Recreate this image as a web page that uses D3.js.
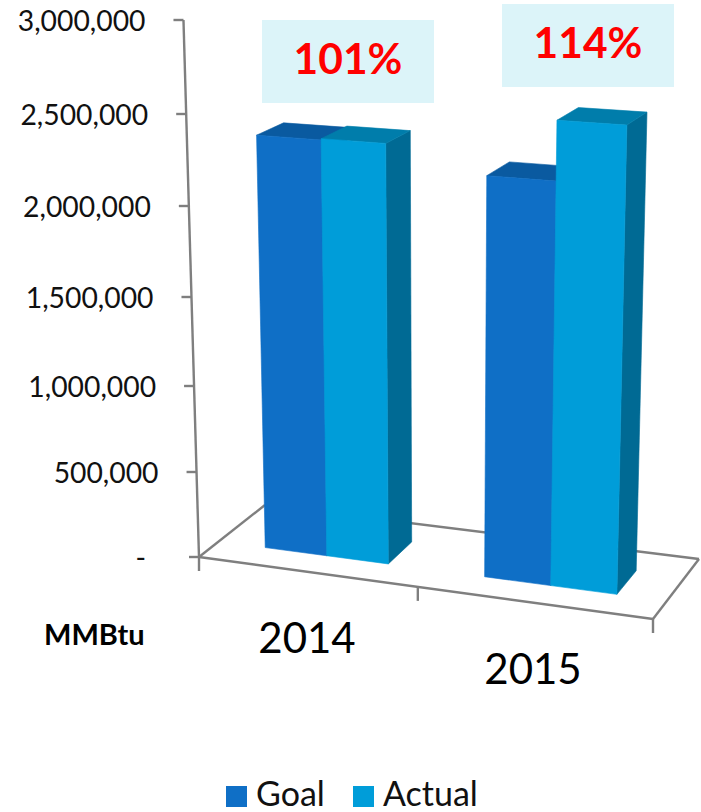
<!DOCTYPE html>
<html>
<head>
<meta charset="utf-8">
<script src="https://cdn.jsdelivr.net/npm/d3@7"></script>
<style>
  body { margin: 0; background: #fff; }
  text { font-family: Lato, "Open Sans", sans-serif; }
</style>
</head>
<body>
<div id="chart"></div>
<script>
const categories = ['2014', '2015'];
const seriesNames = ['Goal', 'Actual'];
const goalValues = [2355000, 2230000];
const actualValues = [2362000, 2550000];
const percentLabels = ['101%', '114%'];
const tickValues = [0, 500000, 1000000, 1500000, 2000000, 2500000, 3000000];

const colors = {
  Goal: { front: '#0f6fc6', top: '#0a5aa0', side: '#0a5a90' },
  Actual: { front: '#009dd9', top: '#007dab', side: '#006a94' },
};

const width = 701;
const height = 812;
const svg = d3.select('#chart').append('svg').attr('width', width).attr('height', height);

// floor corners as they sit in the picture
const floorA = [199, 557];
const floorB = [653, 619];
const floorC = [699, 559];
const floorD = [265, 505];

// the value axis is foreshortened, so one segment per tick
const heightScale = d3.scaleLinear().domain(tickValues).range([0, 85, 171, 260, 351, 443, 537]);
const catEdge = d3.scaleLinear().domain([0, 1, 2]).range([0, 0.482, 1]);
const seriesBand = d3.scaleBand().domain(seriesNames).range([0.215, 0.785]);
const depthNear = 0.3;
const depthFar = 0.7;

function floorPoint(u, v) {
  const x = floorA[0] * (1 - u) * (1 - v) + floorB[0] * u * (1 - v) + floorD[0] * (1 - u) * v + floorC[0] * u * v;
  const y = floorA[1] * (1 - u) * (1 - v) + floorB[1] * u * (1 - v) + floorD[1] * (1 - u) * v + floorC[1] * u * v;
  return [x, y];
}

function project(u, v, value) {
  const [bx, by] = floorPoint(u, v);
  const h = heightScale(value) * (1 + 0.001 * (by - floorA[1]));
  return [bx + (bx - 440) * 0.00012 * h, by - h];
}

const poly = (pts) => 'M' + pts.map((p) => p.join(',')).join('L') + 'Z';

const lineColor = '#7f7f7f';
const axes = svg.append('g').attr('id', 'axes');

function segment(a, b) {
  axes.append('line')
    .attr('x1', a[0]).attr('y1', a[1]).attr('x2', b[0]).attr('y2', b[1])
    .attr('stroke', lineColor).attr('stroke-width', 2.4);
}

// floor outline
segment(floorA, floorB);
segment(floorB, floorC);
segment(floorC, floorD);
segment(floorD, floorA);

// value axis
segment(project(0, 0, 0), project(0, 0, 3000000));
tickValues.forEach((t) => {
  const p = project(0, 0, t);
  segment([p[0] - 10, p[1]], p);
});

// category ticks
[0, 1, 2].forEach((i) => {
  const p = floorPoint(catEdge(i), 0);
  segment(p, [p[0], p[1] + 14]);
});

// value labels
const labelFormat = d3.format(',');
axes.selectAll('text.y-label')
  .data(tickValues)
  .join('text')
  .attr('class', 'y-label')
  .attr('text-anchor', 'end')
  .attr('font-size', 28.3)
  .attr('fill', '#111')
  .attr('x', (d) => project(0, 0, d)[0] - (d === 0 ? 53 : 38))
  .attr('y', (d) => project(0, 0, d)[1] + 11)
  .text((d) => (d === 0 ? '-' : labelFormat(d)));

// bars, back to front within a group: goal first, actual over it
const bars = svg.append('g').attr('id', 'bars');
const barRows = [];
categories.forEach((cat, i) => {
  seriesNames.forEach((name, s) => {
    barRows.push({ cat: i, name, value: (s === 0 ? goalValues : actualValues)[i] });
  });
});

// thin stroke in the face colour closes the hairline between faces
function face(g, pts, color) {
  g.append('path')
    .attr('d', poly(pts))
    .attr('fill', color)
    .attr('stroke', color)
    .attr('stroke-width', 0.6);
}

barRows.forEach((d) => {
  const u0 = catEdge(d.cat + seriesBand(d.name));
  const u1 = catEdge(d.cat + seriesBand(d.name) + seriesBand.bandwidth());
  const c = colors[d.name];
  const g = bars.append('g');
  face(g, [project(u1, depthNear, 0), project(u1, depthFar, 0), project(u1, depthFar, d.value), project(u1, depthNear, d.value)], c.side);
  face(g, [project(u0, depthNear, d.value), project(u1, depthNear, d.value), project(u1, depthFar, d.value), project(u0, depthFar, d.value)], c.top);
  face(g, [project(u0, depthNear, 0), project(u1, depthNear, 0), project(u1, depthNear, d.value), project(u0, depthNear, d.value)], c.front);
});

// percent call-outs
const calloutX = [262, 502];
const calloutY = [20, 4];
percentLabels.forEach((label, i) => {
  svg.append('rect')
    .attr('x', calloutX[i]).attr('y', calloutY[i])
    .attr('width', 172).attr('height', 83)
    .attr('fill', '#dcf4f9');
  svg.append('text')
    .attr('x', calloutX[i] + 86).attr('y', calloutY[i] + 54)
    .attr('text-anchor', 'middle')
    .attr('font-size', 42.5).attr('font-weight', 700)
    .attr('fill', '#ff0000')
    .text(label);
});

// category labels
const catLabelX = [307, 533];
const catLabelY = [653, 684];
categories.forEach((cat, i) => {
  svg.append('text')
    .attr('x', catLabelX[i]).attr('y', catLabelY[i])
    .attr('text-anchor', 'middle')
    .attr('font-size', 42).attr('fill', '#000')
    .text(cat);
});

svg.append('text')
  .attr('x', 44).attr('y', 645)
  .attr('font-size', 29).attr('font-weight', 700)
  .attr('fill', '#000')
  .text('MMBtu');

// legend
const legendX = [226, 353];
seriesNames.forEach((name, i) => {
  svg.append('rect')
    .attr('x', legendX[i]).attr('y', 786)
    .attr('width', 21).attr('height', 21)
    .attr('fill', colors[name].front);
  svg.append('text')
    .attr('x', legendX[i] + 30).attr('y', 806)
    .attr('font-size', 34).attr('fill', '#111')
    .text(name);
});
</script>
</body>
</html>
